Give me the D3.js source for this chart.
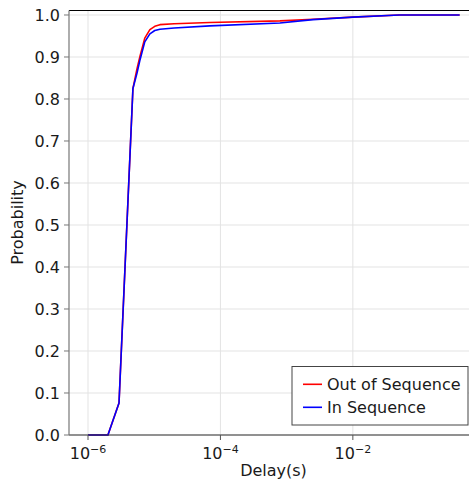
<!DOCTYPE html>
<html>
<head>
<meta charset="utf-8">
<script src="https://cdn.jsdelivr.net/npm/d3@7"></script>
<style>
  html, body { margin: 0; padding: 0; background: #fff; }
  svg { display: block; font-family: "DejaVu Sans", sans-serif; }
</style>
</head>
<body>
<svg id="chart" width="469" height="486"></svg>
<script>
// Delay samples (seconds) shared by both cumulative curves
const delays = [1e-6, 2.0e-6, 2.94e-6, 4.77e-6, 5.5e-6, 6.1e-6, 7.2e-6, 8.6e-6,
                1.02e-5, 1.22e-5, 2e-5, 6.9e-5, 7.9e-4, 2.5e-3, 1e-2, 5e-2, 0.41];
// Cumulative probability for each series
const outOfSeq = [0, 0, 0.076, 0.825, 0.872, 0.902, 0.945, 0.965,
                  0.973, 0.977, 0.979, 0.982, 0.986, 0.990, 0.995, 1.0, 1.0];
const inSeq    = [0, 0, 0.076, 0.825, 0.862, 0.893, 0.936, 0.955,
                  0.963, 0.966, 0.969, 0.974, 0.981, 0.989, 0.995, 1.0, 1.0];
const seriesNames = ["Out of Sequence", "In Sequence"];
const seriesColors = ["#ff0000", "#0000ff"];
const yTicks = [0, 0.1, 0.2, 0.3, 0.4, 0.5, 0.6, 0.7, 0.8, 0.9, 1.0];
const xTicks = [1e-6, 1e-4, 1e-2];
const xTickExp = ["−6", "−4", "−2"];

(function () {
const svg = d3.select("#chart");
const pl = 69, pr = 478, pt = 10.5, pb = 435;
const fs = 16;

const x = d3.scaleLog().domain([Math.pow(10, -6.287), Math.pow(10, -0.11)]).range([pl, pr]);
const y = d3.scaleLinear().domain([0, 1.0107]).range([pb, pt]);

// grid
const grid = svg.append("g");
grid.selectAll("line.gy").data(yTicks).join("line")
  .attr("x1", pl).attr("x2", pr)
  .attr("y1", d => y(d)).attr("y2", d => y(d))
  .attr("stroke", "#e3e3e3").attr("stroke-width", 1);
grid.selectAll("line.gx").data(xTicks).join("line")
  .attr("x1", d => x(d)).attr("x2", d => x(d))
  .attr("y1", pt).attr("y2", pb)
  .attr("stroke", "#e3e3e3").attr("stroke-width", 1);

// curves
const line = d3.line().x(d => x(d[0])).y(d => y(d[1]));
[outOfSeq, inSeq].forEach((vals, i) => {
  svg.append("path")
    .datum(delays.map((d, j) => [d, vals[j]]))
    .attr("d", line)
    .attr("fill", "none")
    .attr("stroke", seriesColors[i])
    .attr("stroke-width", 1.6)
    .attr("stroke-linejoin", "round");
});

// spines
svg.append("line").attr("x1", pl).attr("x2", pr).attr("y1", pt).attr("y2", pt)
  .attr("stroke", "#000").attr("stroke-width", 1.2);
svg.append("line").attr("x1", pl).attr("x2", pr).attr("y1", pb).attr("y2", pb)
  .attr("stroke", "#333").attr("stroke-width", 1.2);
svg.append("line").attr("x1", pl).attr("x2", pl).attr("y1", pt).attr("y2", pb)
  .attr("stroke", "#777").attr("stroke-width", 1.2);

// y axis ticks and labels
const yAx = svg.append("g");
yAx.selectAll("line").data(yTicks).join("line")
  .attr("x1", pl - 5).attr("x2", pl)
  .attr("y1", d => y(d)).attr("y2", d => y(d))
  .attr("stroke", "#777").attr("stroke-width", 1);
yAx.selectAll("text").data(yTicks).join("text")
  .attr("x", pl - 9).attr("y", d => y(d) + 5.7)
  .attr("text-anchor", "end")
  .attr("font-size", fs).attr("fill", "#1a1a1a")
  .text(d => d.toFixed(1));

// x axis ticks and labels
const xAx = svg.append("g");
xAx.selectAll("line").data(xTicks).join("line")
  .attr("x1", d => x(d)).attr("x2", d => x(d))
  .attr("y1", pb).attr("y2", pb + 5)
  .attr("stroke", "#555").attr("stroke-width", 1);
const xt = xAx.selectAll("text").data(xTicks).join("text")
  .attr("x", d => x(d)).attr("y", 458.5)
  .attr("text-anchor", "middle")
  .attr("font-size", fs).attr("fill", "#1a1a1a");
xt.append("tspan").text("10");
xt.append("tspan").attr("font-size", 11).attr("dy", -5.5).text((d, i) => xTickExp[i]);

// axis titles
svg.append("text").attr("x", (pl + pr) / 2).attr("y", 476)
  .attr("text-anchor", "middle").attr("font-size", fs).attr("fill", "#1a1a1a")
  .text("Delay(s)");
svg.append("text").attr("transform", "translate(23,222.5) rotate(-90)")
  .attr("text-anchor", "middle").attr("font-size", fs).attr("fill", "#1a1a1a")
  .text("Probability");

// legend
const lg = svg.append("g");
lg.append("rect").attr("x", 292).attr("y", 366.5).attr("width", 176).attr("height", 58.5)
  .attr("fill", "#fff").attr("stroke", "#444").attr("stroke-width", 1);
seriesNames.forEach((name, i) => {
  const ly = 384.3 + i * 23;
  lg.append("line").attr("x1", 303).attr("x2", 322).attr("y1", ly).attr("y2", ly)
    .attr("stroke", seriesColors[i]).attr("stroke-width", 1.6);
  lg.append("text").attr("x", 327).attr("y", ly + 5.7)
    .attr("font-size", fs).attr("fill", "#1a1a1a").text(name);
});
})();
</script>
</body>
</html>
